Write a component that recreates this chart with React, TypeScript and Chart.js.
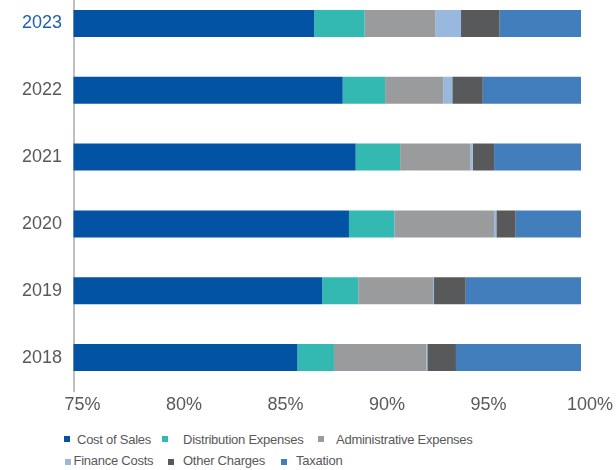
import React, { useEffect, useRef } from "react";
import { Chart, registerables } from "chart.js";

Chart.register(...registerables);

const years = ["2023", "2022", "2021", "2020", "2019", "2018"];
const seriesNames = [
  "Cost of Sales",
  "Distribution Expenses",
  "Administrative Expenses",
  "Finance Costs",
  "Other Charges",
  "Taxation",
];
const costOfSales = [86.86, 88.26, 88.9, 88.57, 87.25, 86.03];
const distribution = [2.48, 2.09, 2.19, 2.24, 1.78, 1.8];
const administrative = [3.49, 2.87, 3.46, 4.91, 3.68, 4.55];
const financeCosts = [1.26, 0.44, 0.12, 0.11, 0.05, 0.05];
const otherCharges = [1.9, 1.5, 1.05, 0.95, 1.56, 1.41];
const taxation = [4.01, 4.84, 4.28, 3.22, 5.68, 6.16];
const xTicks = [75, 80, 85, 90, 95, 100];

const colors = ["#0353A4", "#33B9B2", "#9A9B9D", "#98B9DD", "#58595B", "#427EBC"];
const seriesValues = [costOfSales, distribution, administrative, financeCosts, otherCharges, taxation];

const legendLayout = [
  { bx: 64, by: 436, tx: 77, ty: 431.5 },
  { bx: 162, by: 436, tx: 183, ty: 431.5 },
  { bx: 318, by: 436, tx: 336, ty: 431.5 },
  { bx: 65, by: 459, tx: 73.5, ty: 453 },
  { bx: 168, by: 459, tx: 183, ty: 453 },
  { bx: 281, by: 459, tx: 296, ty: 453 },
];

export default function App() {
  const ref = useRef<HTMLCanvasElement | null>(null);

  useEffect(() => {
    if (!ref.current) return;
    const chart = new Chart(ref.current, {
      type: "bar",
      data: {
        labels: years,
        datasets: seriesNames.map((name, i) => ({
          label: name,
          data: seriesValues[i],
          backgroundColor: colors[i],
          borderWidth: 0,
          barPercentage: 0.405,
          categoryPercentage: 1,
        })),
      },
      options: {
        indexAxis: "y",
        responsive: false,
        animation: false,
        devicePixelRatio: 1,
        layout: { padding: { left: 0, right: 35, top: 0, bottom: 0 } },
        plugins: {
          legend: { display: false },
          tooltip: { enabled: false },
        },
        scales: {
          x: {
            stacked: true,
            min: 75,
            max: 100,
            afterBuildTicks: (scale: any) => {
              scale.ticks = xTicks.map((v) => ({ value: v }));
            },
            afterFit: (scale: any) => {
              scale.height = 29;
              scale.paddingLeft = 0;
              scale.paddingRight = 0;
            },
            grid: { display: false, drawTicks: false },
            border: { display: false },
            ticks: {
              padding: 3,
              labelOffset: 9,
              color: "#595959",
              font: { family: "'Liberation Sans', Arial, sans-serif", size: 18 },
              callback: (v: any) => v + "%",
            },
          },
          y: {
            stacked: true,
            afterFit: (scale: any) => {
              scale.width = 73.5;
              scale.paddingTop = 0;
              scale.paddingBottom = 0;
            },
            grid: { display: false, drawTicks: false },
            border: { display: true, color: "#BFBFBF", width: 2 },
            ticks: {
              padding: 11.5,
              color: (ctx: any) => (ctx.index === 0 ? "#1F5FAE" : "#595959"),
              font: { family: "'Liberation Sans', Arial, sans-serif", size: 18 },
            },
          },
        },
      },
    });
    return () => chart.destroy();
  }, []);

  return (
    <div
      style={{
        position: "fixed",
        left: 0,
        top: 0,
        width: 616,
        height: 470,
        background: "#ffffff",
        overflow: "hidden",
        fontFamily: "'Liberation Sans', Arial, sans-serif",
      }}
    >
      <canvas
        ref={ref}
        width={616}
        height={430}
        style={{ position: "absolute", left: 0, top: -10, width: 616, height: 430 }}
      />
      {seriesNames.map((name, i) => (
        <React.Fragment key={name}>
          <div
            style={{
              position: "absolute",
              left: legendLayout[i].bx,
              top: legendLayout[i].by,
              width: 6,
              height: 6,
              background: colors[i],
            }}
          />
          <div
            style={{
              position: "absolute",
              left: legendLayout[i].tx,
              top: legendLayout[i].ty,
              fontSize: 13,
              lineHeight: "15px",
              letterSpacing: "-0.25px",
              color: "#595959",
              whiteSpace: "nowrap",
            }}
          >
            {name}
          </div>
        </React.Fragment>
      ))}
    </div>
  );
}
